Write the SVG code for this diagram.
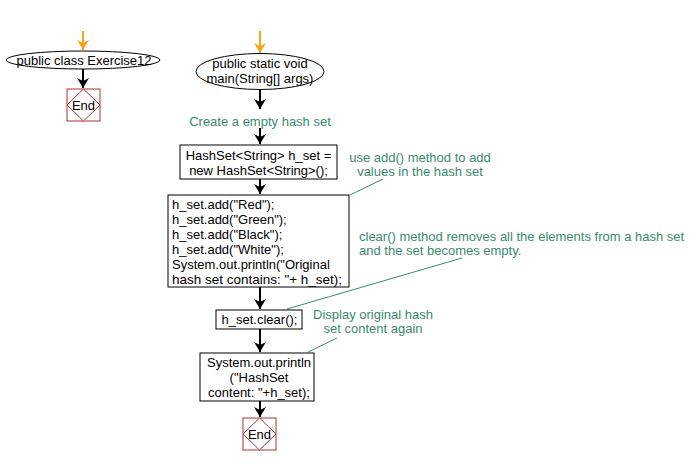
<svg xmlns="http://www.w3.org/2000/svg" width="698" height="466" viewBox="0 0 698 466">
<style>
.t{font-family:"Liberation Sans",Arial,sans-serif;font-size:13px;fill:#000}
.c{font-family:"Liberation Sans",Arial,sans-serif;font-size:13px;fill:#3a8a6e}
.box{fill:#fff;stroke:#000;stroke-width:1}
.end{fill:#fff;stroke:#a33;stroke-width:1}
.ln{stroke:#000;stroke-width:2;fill:none}
.ob{stroke:#f9a21b;stroke-width:2;fill:none}
.cl{stroke:#3a8a6e;stroke-width:1;fill:none}
</style>
<defs>
<marker id="ah" viewBox="0 0 10 12" refX="10" refY="6" markerWidth="5" markerHeight="6" orient="auto" markerUnits="strokeWidth">
<path d="M0,0 L10,6 L0,12 L3,6 Z" fill="#000"/>
</marker>
<marker id="ao" viewBox="0 0 10 12" refX="10" refY="6" markerWidth="5" markerHeight="6" orient="auto" markerUnits="strokeWidth">
<path d="M0,0 L10,6 L0,12 L3,6 Z" fill="#f9a21b"/>
</marker>
</defs>
<g id="connectors">
<line class="ob" x1="83" y1="31" x2="83" y2="50" marker-end="url(#ao)"/>
<line class="ln" x1="83" y1="69" x2="83" y2="88" marker-end="url(#ah)"/>
<line class="ob" x1="260" y1="31" x2="260" y2="53" marker-end="url(#ao)"/>
<line class="ln" x1="260" y1="90" x2="260" y2="109" marker-end="url(#ah)"/>
<line class="ln" x1="260" y1="128" x2="260" y2="144" marker-end="url(#ah)"/>
<line class="ln" x1="260" y1="179" x2="260" y2="194" marker-end="url(#ah)"/>
<line class="ln" x1="260" y1="287" x2="260" y2="309" marker-end="url(#ah)"/>
<line class="ln" x1="260" y1="329" x2="260" y2="352" marker-end="url(#ah)"/>
<line class="ln" x1="260" y1="401" x2="260" y2="417" marker-end="url(#ah)"/>
<polyline class="cl" points="350,195 383,179"/>
<polyline class="cl" points="462,258 287,309"/>
<polyline class="cl" points="337,338 308,352"/>
</g>
<g id="class">
<ellipse cx="83" cy="60" rx="77" ry="9" class="box"/>
<text class="t" x="84" y="65" text-anchor="middle">public class Exercise12</text>
</g>
<g id="end1">
<rect x="67" y="89" width="33" height="32" class="end"/>
<polygon points="83.5,89 100,105 83.5,121 67,105" class="end"/>
<text class="t" x="83.5" y="110" text-anchor="middle">End</text>
</g>
<g id="main">
<ellipse cx="260" cy="71.5" rx="64" ry="18" class="box"/>
<text class="t" x="260" y="68" text-anchor="middle">public static void</text>
<text class="t" x="260" y="83" text-anchor="middle">main(String[] args)</text>
</g>
<g id="label1">
<text class="c" x="260" y="126" text-anchor="middle">Create a empty hash set</text>
</g>
<g id="init">
<rect x="180" y="145" width="157" height="34" class="box"/>
<text class="t" x="258.5" y="160" text-anchor="middle">HashSet&lt;String&gt; h_set =</text>
<text class="t" x="258.5" y="175" text-anchor="middle">new HashSet&lt;String&gt;();</text>
</g>
<g id="adds">
<rect x="168" y="195" width="181" height="92" class="box"/>
<text class="t" x="172" y="209">h_set.add("Red");</text>
<text class="t" x="172" y="224">h_set.add("Green");</text>
<text class="t" x="172" y="239">h_set.add("Black");</text>
<text class="t" x="172" y="254">h_set.add("White");</text>
<text class="t" x="172" y="269">System.out.println("Original</text>
<text class="t" x="172" y="284" textLength="170" lengthAdjust="spacingAndGlyphs">hash set contains: "+ h_set);</text>
</g>
<g id="clear">
<rect x="216" y="310" width="86" height="19" class="box"/>
<text class="t" x="259.5" y="324" text-anchor="middle">h_set.clear();</text>
</g>
<g id="print">
<rect x="200" y="353" width="114" height="48" class="box"/>
<text class="t" x="259" y="367" text-anchor="middle">System.out.println</text>
<text class="t" x="259" y="382" text-anchor="middle">("HashSet</text>
<text class="t" x="259" y="397" text-anchor="middle">content: "+h_set);</text>
</g>
<g id="end2">
<rect x="243" y="418" width="33" height="32" class="end"/>
<polygon points="259.5,418 276,434 259.5,450 243,434" class="end"/>
<text class="t" x="259.5" y="439" text-anchor="middle">End</text>
</g>
<g id="comment1">
<text class="c" x="420" y="162" text-anchor="middle">use add() method to add</text>
<text class="c" x="420" y="176" text-anchor="middle">values in the hash set</text>
</g>
<g id="comment2">
<text class="c" x="359" y="241">clear() method removes all the elements from a hash set</text>
<text class="c" x="359" y="255">and the set becomes empty.</text>
</g>
<g id="comment3">
<text class="c" x="373" y="319" text-anchor="middle">Display original hash</text>
<text class="c" x="373" y="333" text-anchor="middle">set content again</text>
</g>
</svg>
